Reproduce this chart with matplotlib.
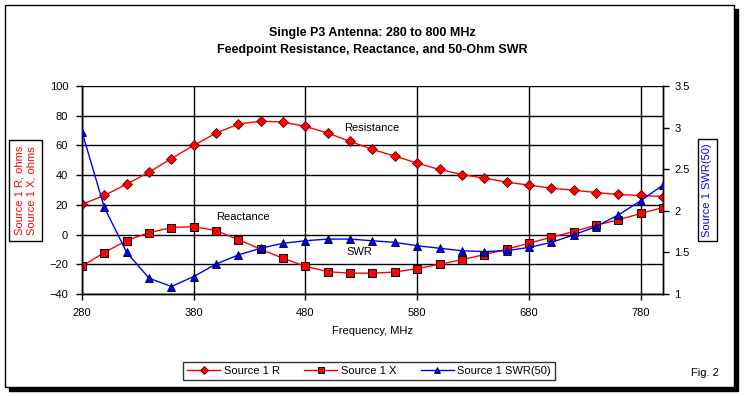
import matplotlib.pyplot as plt
from matplotlib.patches import Rectangle

plt.rcParams['font.family'] = ['Liberation Sans', 'DejaVu Sans']
plt.rcParams['font.size'] = 8

freq_mhz = list(range(280, 801, 20))
source_r = [20.4, 26.3, 34.0, 42.0, 51.2, 60.0, 68.3, 74.4, 76.4, 75.7, 72.8,
            68.3, 62.7, 57.3, 52.8, 48.1, 43.8, 40.4, 38.0, 35.3, 33.3, 31.2,
            29.9, 28.3, 27.0, 26.3, 25.6]
source_x = [-21.3, -12.1, -4.0, 1.3, 4.7, 5.4, 2.7, -3.4, -9.9, -16.0, -21.3,
            -25.0, -26.0, -26.0, -25.2, -22.9, -20.0, -16.9, -13.5, -9.9, -5.8,
            -1.8, 2.0, 6.3, 9.9, 14.2, 18.2]
swr_50 = [2.95, 2.04, 1.50, 1.19, 1.09, 1.21, 1.36, 1.47, 1.55, 1.61, 1.64,
          1.66, 1.66, 1.64, 1.62, 1.58, 1.55, 1.52, 1.51, 1.52, 1.56, 1.62,
          1.71, 1.81, 1.95, 2.12, 2.31]

W, H = 744, 396
fig = plt.figure(figsize=(W / 100, H / 100), dpi=100)

# outer frame with drop shadow
fig.patches.append(Rectangle((9 / W, 1 - 391 / H), 729 / W, 382 / H,
                             transform=fig.transFigure, facecolor='black',
                             edgecolor='black', zorder=-3))
fig.patches.append(Rectangle((5 / W, 1 - 387 / H), 729 / W, 382 / H,
                             transform=fig.transFigure, facecolor='white',
                             edgecolor='black', lw=1, zorder=-2))

ax = fig.add_axes([82 / W, 1 - 294 / H, (663 - 82) / W, (294 - 86) / H])
ax2 = ax.twinx()
ax.patch.set_alpha(0)
ax2.patch.set_alpha(0)

ax.plot(freq_mhz, source_r, color='red', lw=1, marker='D', ms=5,
        mfc='red', mec='#600000', mew=0.6, label='Source 1 R', zorder=3)
ax.plot(freq_mhz, source_x, color='red', lw=1, marker='s', ms=6,
        mfc='red', mec='black', mew=0.7, label='Source 1 X', zorder=3)
ax2.plot(freq_mhz, swr_50, color='blue', lw=1, marker='^', ms=6,
         mfc='blue', mec='black', mew=0.6, label='Source 1 SWR(50)', zorder=3)

ax.set_xlim(280, 800)
ax.set_ylim(-40, 100)
ax2.set_ylim(1, 3.5)
ax.set_xticks(range(280, 800, 100))
ax.set_yticks(range(-40, 101, 20))
ax2.set_yticks([1, 1.5, 2, 2.5, 3, 3.5])
ax2.set_yticklabels(['1', '1.5', '2', '2.5', '3', '3.5'])
ax.grid(True, color='black', lw=1)
ax.set_axisbelow(True)
ax.tick_params(direction='out', length=4, width=1, colors='black', pad=6)
ax2.tick_params(direction='out', length=4, width=1, colors='black', pad=4)
for a in (ax, ax2):
    for s in a.spines.values():
        s.set_linewidth(1)
ax.spines['top'].set_visible(False)
ax2.spines['top'].set_visible(False)

ax.set_xlabel('Frequency, MHz', labelpad=6)

ax.text(515, 71.5, 'Resistance', ha='left', va='center')
ax.text(400, 11.5, 'Reactance', ha='left', va='center')
ax.text(517, -11.5, 'SWR', ha='left', va='center')

fig.text(0.5, 1 - 41.5 / H, 'Single P3 Antenna: 280 to 800 MHz\n'
         'Feedpoint Resistance, Reactance, and 50-Ohm SWR',
         ha='center', va='center', fontsize=9, fontweight='bold',
         linespacing=1.55)

# left axis title in a box
fig.text(25.5 / W, 1 - 190.5 / H, 'Source 1 R, ohms\nSource 1 X, ohms',
         rotation=90, ha='center', va='center', color='red', linespacing=1.3,
         bbox=dict(facecolor='white', edgecolor='black', lw=1, pad=4))
# right axis title in a box
fig.text(707.5 / W, 1 - 190 / H, 'Source 1 SWR(50)', rotation=90,
         ha='center', va='center', color='blue',
         bbox=dict(facecolor='white', edgecolor='black', lw=1, pad=3))

h1, l1 = ax.get_legend_handles_labels()
h2, l2 = ax2.get_legend_handles_labels()
leg = fig.legend(h1 + h2, l1 + l2, loc='center', ncol=3,
                 bbox_to_anchor=(369 / W, 1 - 371 / H), frameon=True,
                 fancybox=False, edgecolor='black', markerscale=0.8,
                 handlelength=3, columnspacing=2.2, handletextpad=0.3,
                 borderpad=0.35, borderaxespad=0)
leg.get_frame().set_linewidth(1)

fig.text(705 / W, 1 - 373 / H, 'Fig. 2', ha='center', va='center')

fig.savefig('out.png', dpi=100)
